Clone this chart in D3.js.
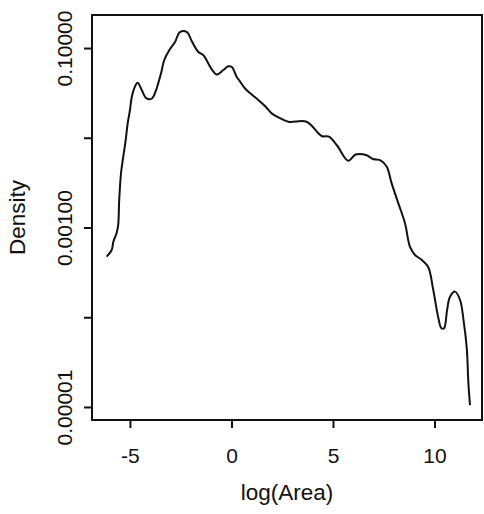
<!DOCTYPE html>
<html>
<head>
<meta charset="utf-8">
<script src="https://cdn.jsdelivr.net/npm/d3@7"></script>
<style>
  html, body { margin: 0; padding: 0; background: #fff; }
  svg { display: block; }
  text { font-family: "Liberation Sans", Arial, Helvetica, sans-serif; fill: #111; }
</style>
</head>
<body>
<svg id="chart" width="484" height="514"></svg>
<script>
// Kernel density estimate of log(Area), density on a log10 scale
const logArea = [
  -6.15, -5.90, -5.82, -5.66, -5.58, -5.53, -5.44, -5.33, -5.21, -5.11,
  -5.00, -4.92, -4.79, -4.62, -4.42, -4.18, -3.92, -3.73, -3.61, -3.47,
  -3.31, -3.03, -2.78, -2.54, -2.19, -1.96, -1.64, -1.39, -0.98, -0.73,
  -0.40, -0.16, 0.02, 0.26, 0.42, 0.67, 1.00, 1.32, 1.65, 1.98,
  2.29, 2.80, 3.70, 4.44, 4.80, 5.20, 5.75, 6.11, 6.63, 6.97,
  7.36, 7.65, 7.89, 8.22, 8.55, 8.79, 9.04, 9.38, 9.69, 9.94,
  10.19, 10.34, 10.47, 10.62, 10.76, 11.01, 11.26, 11.43, 11.59, 11.67,
  11.75
];
const density = [
  4.73e-4, 5.61e-4, 6.95e-4, 8.61e-4, 1.067e-3, 2.02e-3, 4.05e-3, 6.15e-3, 9.44e-3, 0.0146,
  0.0204, 0.0277, 0.0356, 0.0410, 0.0340, 0.0274, 0.0274, 0.0332, 0.0404, 0.0522,
  0.0735, 0.0975, 0.1166, 0.1507, 0.1507, 0.1197, 0.0910, 0.0836, 0.0583, 0.0507,
  0.0569, 0.0625, 0.0614, 0.0475, 0.0424, 0.0354, 0.0303, 0.0264, 0.0226, 0.0187,
  0.0170, 0.0151, 0.0151, 0.01047, 0.01028, 0.00820, 0.00555, 0.00650, 0.00643, 0.00580,
  0.00558, 0.00475, 0.00310, 0.00186, 0.00111, 6.11e-4, 4.94e-4, 4.35e-4, 3.63e-4, 2.01e-4,
  9.82e-5, 7.54e-5, 7.54e-5, 1.205e-4, 1.68e-4, 1.93e-4, 1.556e-4, 9.31e-5, 4.51e-5, 1.84e-5,
  1.05e-5
];

const xTicks = [-5, 0, 5, 10];
const yTicks = [1e-1, 1e-2, 1e-3, 1e-4, 1e-5];
const yTickLabels = ["0.10000", "", "0.00100", "", "0.00001"];

const xLabel = "log(Area)";
const yLabel = "Density";

const svg = d3.select("#chart");
const plot = { left: 92, top: 15, right: 482, bottom: 420 };

const x = d3.scaleLinear()
  .domain([-6.87, 12.34])
  .range([plot.left, plot.right]);

const y = d3.scaleLog()
  .domain([Math.pow(10, -5.145), Math.pow(10, -0.632)])
  .range([plot.bottom, plot.top]);

const tickFont = 21;
const titleFont = 22.5;

// bottom axis
const xAxis = svg.append("g")
  .attr("transform", `translate(0,${plot.bottom})`)
  .call(d3.axisBottom(x).tickValues(xTicks).tickSize(8).tickPadding(20)
    .tickFormat(d => d < 0 ? "-" + Math.abs(d) : String(d)));
xAxis.select(".domain").remove();
xAxis.selectAll(".tick line").attr("stroke", "#111").attr("stroke-width", 2);
xAxis.selectAll(".tick text")
  .attr("font-size", tickFont)
  .attr("font-family", "Liberation Sans, Arial, sans-serif")
  .attr("fill", "#111")
  .attr("dy", "0.71em");

// left axis, labels rotated
const yAxis = svg.append("g")
  .attr("transform", `translate(${plot.left},0)`)
  .call(d3.axisLeft(y).tickValues(yTicks).tickSize(8)
    .tickFormat((d, i) => yTickLabels[i]));
yAxis.select(".domain").remove();
yAxis.selectAll(".tick line").attr("stroke", "#111").attr("stroke-width", 2);
yAxis.selectAll(".tick text")
  .attr("font-size", tickFont)
  .attr("font-family", "Liberation Sans, Arial, sans-serif")
  .attr("fill", "#111")
  .attr("x", null).attr("dy", null)
  .attr("text-anchor", "middle")
  .attr("transform", "translate(-20,0) rotate(-90)");

// plot frame
svg.append("rect")
  .attr("x", plot.left).attr("y", plot.top)
  .attr("width", plot.right - plot.left)
  .attr("height", plot.bottom - plot.top)
  .attr("fill", "none")
  .attr("stroke", "#111")
  .attr("stroke-width", 2);

// density curve
const pts = logArea.map((v, i) => [v, density[i]]);
const line = d3.line()
  .x(d => x(d[0]))
  .y(d => y(d[1]))
  .curve(d3.curveCatmullRom.alpha(0.5));

svg.append("path")
  .datum(pts)
  .attr("d", line)
  .attr("fill", "none")
  .attr("stroke", "#111")
  .attr("stroke-width", 2)
  .attr("stroke-linejoin", "round");

// axis titles
svg.append("text")
  .attr("x", (plot.left + plot.right) / 2)
  .attr("y", 500)
  .attr("text-anchor", "middle")
  .attr("font-size", titleFont)
  .text(xLabel);

svg.append("text")
  .attr("transform", `translate(25,${(plot.top + plot.bottom) / 2}) rotate(-90)`)
  .attr("text-anchor", "middle")
  .attr("font-size", titleFont)
  .text(yLabel);
</script>
</body>
</html>
